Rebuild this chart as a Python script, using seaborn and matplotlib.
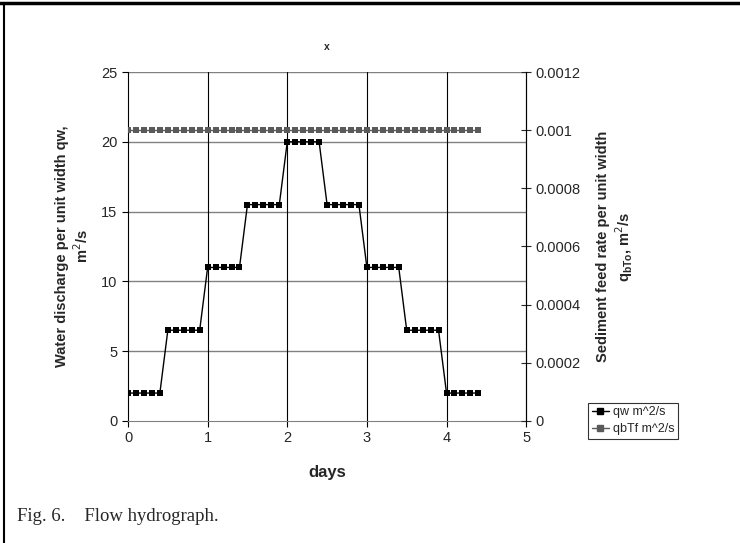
import matplotlib
matplotlib.use("Agg")
import matplotlib.pyplot as plt
import matplotlib.lines as mlines
import numpy as np
import pandas as pd
import seaborn as sns

# Data (0.1 day steps).
days = [round(0.1 * i, 1) for i in range(45)]
qw_levels = [2, 6.5, 11, 15.5, 20, 15.5, 11, 6.5, 2]
qw = [lvl for lvl in qw_levels for _ in range(5)]
qbtf = [0.001] * 45

df = pd.DataFrame({"days": days, "qw": qw, "qbtf": qbtf})

sns.set_style("white")
plt.rcParams["font.family"] = ["Liberation Sans", "DejaVu Sans"]

fig = plt.figure(figsize=(7.4, 5.43), dpi=100)
ax = fig.add_axes([0.173, 0.2247, 0.538, 0.6427])
ax2 = ax.twinx()

sns.lineplot(data=df, x="days", y="qw", ax=ax, color="black", lw=1,
             marker="s", markersize=4.5, markeredgewidth=0, zorder=5)
sns.lineplot(data=df, x="days", y="qbtf", ax=ax2, color="#5a5a5a", lw=1,
             marker="s", markersize=4.5, markeredgewidth=0, zorder=5)

ax.set_xlim(0, 5)
ax.set_ylim(0, 25)
ax2.set_ylim(0, 0.0012)
ax.set_xticks(range(6))
ax.set_yticks(range(0, 26, 5))
ax2.set_yticks(np.arange(0, 0.00121, 0.0002))
ax2.set_yticklabels(["0", "0.0002", "0.0004", "0.0006", "0.0008", "0.001", "0.0012"])

# gridlines
for y in range(5, 26, 5):
    ax.axhline(y, color="#808080", lw=1, zorder=0)
for x in range(1, 5):
    ax.axvline(x, color="black", lw=0.8, zorder=0)

for a in (ax, ax2):
    a.spines["top"].set_visible(False)
    a.spines["bottom"].set_color("#808080")
ax.spines["left"].set_color("black")
ax2.spines["right"].set_color("black")
ax2.spines["left"].set_visible(False)
ax2.spines["bottom"].set_visible(False)

ax.tick_params(axis="both", labelsize=10.5, length=4, color="black", direction="out",
               left=True, bottom=True)
ax2.tick_params(axis="y", labelsize=10.5, length=7, direction="inout", right=True)

ax.set_xlabel("days", fontsize=12, fontweight="bold", labelpad=14)
ax.set_ylabel("Water discharge per unit width qw,\nm$^2$/s", fontsize=10.5,
              fontweight="bold", ha="center", va="center")
ax.yaxis.set_label_coords(-0.138, 0.5)
ax2.set_ylabel("Sediment feed rate per unit width\nq$_{\\mathregular{bTo}}$, m$^2$/s",
               fontsize=10.5, fontweight="bold", rotation=90, ha="center",
               va="center")
ax2.yaxis.set_label_coords(1.225, 0.5)
ax.set_title("x", fontsize=7.5, fontweight="bold", pad=16)

h1 = mlines.Line2D([], [], color="black", lw=1, marker="s", markersize=4.5)
h2 = mlines.Line2D([], [], color="#5a5a5a", lw=1, marker="s", markersize=4.5)
ax.legend([h1, h2], ["qw m^2/s", "qbTf m^2/s"], loc="upper left",
          bbox_to_anchor=(0.786, 0.27), bbox_transform=fig.transFigure,
          fontsize=9, frameon=True, fancybox=False, edgecolor="black",
          handlelength=1.4, handletextpad=0.3, borderpad=0.3, labelspacing=0.4)
ax.get_legend().get_frame().set_linewidth(0.8)

# page frame and caption
fig.add_artist(mlines.Line2D([0, 1], [0.994, 0.994], color="black", lw=2.5,
                             transform=fig.transFigure))
fig.add_artist(mlines.Line2D([0.006, 0.006], [0, 0.994], color="black", lw=1.5,
                             transform=fig.transFigure))
fig.text(0.023, 0.04, "Fig. 6.    Flow hydrograph.", fontsize=13.5,
         family=["Liberation Serif", "DejaVu Serif"])

fig.savefig("out.png", dpi=100)
